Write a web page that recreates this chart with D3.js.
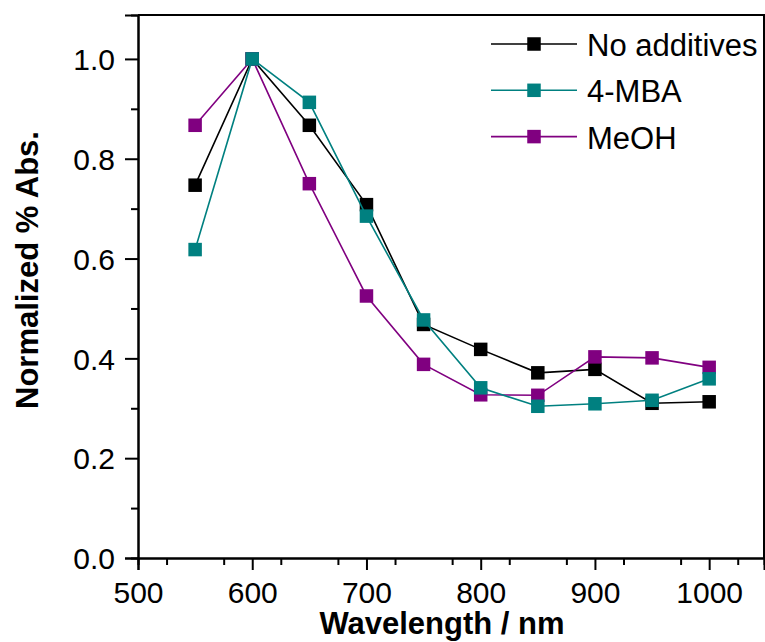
<!DOCTYPE html>
<html>
<head>
<meta charset="utf-8">
<script src="https://cdn.jsdelivr.net/npm/d3@7"></script>
<style>
  html, body { margin: 0; padding: 0; background: #fff; }
  svg { display: block; font-family: "Liberation Sans", Arial, sans-serif; }
</style>
</head>
<body>
<svg id="chart" width="765" height="642"></svg>
<script>
// Wavelengths (nm) at which absorbance was sampled
const wavelengths = [550, 600, 650, 700, 750, 800, 850, 900, 950, 1000];

// Normalized absorbance for each preparation
const noAdditives = [0.747, 1.0, 0.867, 0.708, 0.468, 0.418, 0.371, 0.378, 0.310, 0.313];
const mba4        = [0.618, 1.0, 0.913, 0.685, 0.477, 0.341, 0.304, 0.309, 0.316, 0.359];
const meoh        = [0.867, 1.0, 0.750, 0.525, 0.388, 0.327, 0.326, 0.403, 0.401, 0.382];

const seriesNames = ["No additives", "4-MBA", "MeOH"];
const seriesColors = ["#000000", "#008080", "#800080"];

const xTickValues = [500, 600, 700, 800, 900, 1000];
const yTickValues = [0.0, 0.2, 0.4, 0.6, 0.8, 1.0];

const series = [
  { name: seriesNames[0], color: seriesColors[0], values: noAdditives },
  { name: seriesNames[1], color: seriesColors[1], values: mba4 },
  { name: seriesNames[2], color: seriesColors[2], values: meoh }
];

const svg = d3.select("#chart");
const plotLeft = 138, plotRight = 764, plotTop = 15, plotBottom = 558;

const x = d3.scaleLinear().domain([500, 1048]).range([plotLeft, plotRight]);
const y = d3.scaleLinear().domain([0, 1.088]).range([plotBottom, plotTop]);

// Frame (top and right edges)
svg.append("path")
  .attr("d", `M${plotLeft},${plotTop}H${plotRight}V${plotBottom}`)
  .attr("fill", "none").attr("stroke", "#000").attr("stroke-width", 2);

// Minor ticks
const xMinor = d3.range(525, 1048, 50);
const yMinor = d3.range(0.1, 1.0, 0.2);

const xAxisMinor = svg.append("g").attr("transform", `translate(0,${plotBottom})`)
  .call(d3.axisBottom(x).tickValues(xMinor).tickSize(7).tickFormat(""));
const yAxisMinor = svg.append("g").attr("transform", `translate(${plotLeft},0)`)
  .call(d3.axisLeft(y).tickValues(yMinor).tickSize(7).tickFormat(""));

// Major axes
const xAxis = svg.append("g").attr("transform", `translate(0,${plotBottom})`)
  .call(d3.axisBottom(x).tickValues(xTickValues).tickSize(12).tickPadding(11)
    .tickFormat(d3.format("d")));
const yAxis = svg.append("g").attr("transform", `translate(${plotLeft},0)`)
  .call(d3.axisLeft(y).tickValues(yTickValues).tickSize(13).tickPadding(10)
    .tickFormat(d3.format(".1f")));

[xAxisMinor, yAxisMinor, xAxis, yAxis].forEach(g => {
  g.select(".domain").attr("stroke", "#000").attr("stroke-width", 2);
  g.selectAll(".tick line").attr("stroke", "#000").attr("stroke-width", 2);
  g.selectAll(".tick text").attr("fill", "#000")
    .style("font-family", "'Liberation Sans', Arial, sans-serif")
    .style("font-size", "30px");
});
xAxis.selectAll(".tick text").attr("dy", "0.73em");
yAxis.selectAll(".tick text").attr("dy", "0.36em");

// Axis titles
svg.append("text")
  .attr("x", 442).attr("y", 634)
  .attr("text-anchor", "middle")
  .style("font-size", "31px").style("font-weight", "bold")
  .text("Wavelength / nm");

svg.append("text")
  .attr("transform", "translate(38,270) rotate(-90)")
  .attr("text-anchor", "middle")
  .style("font-size", "31px").style("font-weight", "bold")
  .text("Normalized % Abs.");

// Series lines and square markers; draw order keeps 4-MBA on top
const drawOrder = [series[0], series[2], series[1]];
const line = d3.line()
  .x((d, i) => x(wavelengths[i]))
  .y(d => y(d));
const ms = 13.5;

drawOrder.forEach(s => {
  const g = svg.append("g");
  g.append("path")
    .attr("d", line(s.values))
    .attr("fill", "none")
    .attr("stroke", s.color)
    .attr("stroke-width", 1.6);
  g.selectAll("rect").data(s.values).join("rect")
    .attr("x", (d, i) => x(wavelengths[i]) - ms / 2)
    .attr("y", d => y(d) - ms / 2)
    .attr("width", ms).attr("height", ms)
    .attr("fill", s.color);
});

// Legend
const legend = svg.append("g");
series.forEach((s, i) => {
  const cy = 44 + i * 46.3;
  legend.append("line")
    .attr("x1", 491).attr("x2", 577).attr("y1", cy).attr("y2", cy)
    .attr("stroke", s.color).attr("stroke-width", 1.6);
  legend.append("rect")
    .attr("x", 534 - ms / 2).attr("y", cy - ms / 2)
    .attr("width", ms).attr("height", ms)
    .attr("fill", s.color);
  legend.append("text")
    .attr("x", 587).attr("y", cy + 12)
    .style("font-size", "31px")
    .text(s.name);
});
</script>
</body>
</html>
